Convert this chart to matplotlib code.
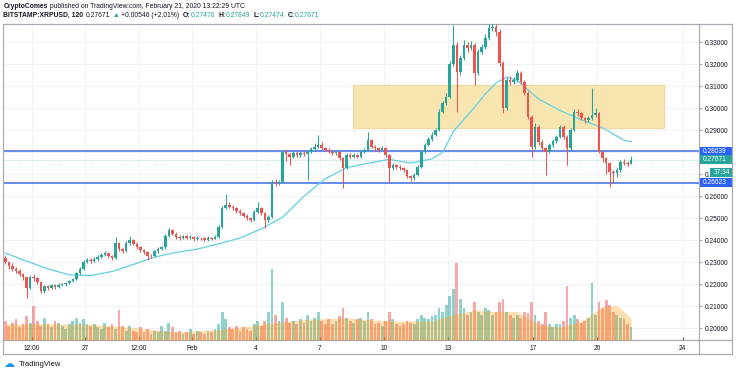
import numpy as np
import pandas as pd
import matplotlib
matplotlib.use('Agg')
import matplotlib.pyplot as plt
import matplotlib.dates as mdates
import matplotlib.transforms as mtransforms
from matplotlib.patches import Rectangle
from matplotlib.lines import Line2D

plt.rcParams['font.family'] = ['Liberation Sans', 'DejaVu Sans']

# BITSTAMP:XRPUSD, 4h candles (first one opens 23 Jan 06:00)
first_open = 0.2320
closes = [
    0.2300, 0.2285, 0.2270, 0.2262, 0.2245, 0.2232, 0.2185, 0.2235, 0.2228, 0.2210, 0.2168, 0.2190,
    0.2184, 0.2195, 0.2188, 0.2196, 0.2200, 0.2206, 0.2215, 0.2222, 0.2250, 0.2270, 0.2303, 0.2312,
    0.2305, 0.2315, 0.2325, 0.2335, 0.2342, 0.2328, 0.2318, 0.2388, 0.2360, 0.2350, 0.2388, 0.2402,
    0.2385, 0.2368, 0.2356, 0.2345, 0.2330, 0.2328, 0.2350, 0.2362, 0.2368, 0.2420, 0.2447, 0.2430,
    0.2416, 0.2410, 0.2418, 0.2412, 0.2416, 0.2405, 0.2412, 0.2409, 0.2402, 0.2412, 0.2408, 0.2416,
    0.2462, 0.2547, 0.2560, 0.2553, 0.2545, 0.2535, 0.2524, 0.2512, 0.2500, 0.2492, 0.2530, 0.2547,
    0.2524, 0.2492, 0.2507, 0.2666, 0.2659, 0.2666, 0.2803, 0.2790, 0.2780, 0.2797, 0.2788, 0.2797,
    0.2790, 0.2803, 0.2815, 0.2825, 0.2833, 0.2819, 0.2812, 0.2803, 0.2795, 0.2803, 0.2774, 0.2729,
    0.2788, 0.2780, 0.2788, 0.2780, 0.2800, 0.2811, 0.2856, 0.2825, 0.2818, 0.2811, 0.2819, 0.2788,
    0.2729, 0.2740, 0.2735, 0.2729, 0.2720, 0.2690, 0.2683, 0.2697, 0.2735, 0.2803, 0.2833, 0.2860,
    0.2879, 0.2901, 0.2985, 0.3024, 0.3053, 0.3200, 0.3288, 0.3166, 0.3230, 0.3288, 0.3274, 0.3288,
    0.3160, 0.3257, 0.3280, 0.3320, 0.3365, 0.3371, 0.3348, 0.3206, 0.3000, 0.3129, 0.3120, 0.3130,
    0.3160, 0.3121, 0.3070, 0.2962, 0.2825, 0.2916, 0.2848, 0.2819, 0.2803, 0.2833, 0.2850, 0.2871,
    0.2916, 0.2871, 0.2819, 0.2901, 0.2985, 0.2978, 0.2954, 0.2947, 0.2955, 0.2969, 0.2978, 0.2803,
    0.2774, 0.2751, 0.2712, 0.2705, 0.2720, 0.2757, 0.2751, 0.2748, 0.27671]
highs = [
    0.2332, 0.2308, 0.2295, 0.2280, 0.2268, 0.2252, 0.2238, 0.2242, 0.2246, 0.2232, 0.2214, 0.2198,
    0.2196, 0.2202, 0.2200, 0.2205, 0.2208, 0.2212, 0.2220, 0.2230, 0.2258, 0.2280, 0.2312, 0.2320,
    0.2318, 0.2324, 0.2332, 0.2344, 0.2350, 0.2348, 0.2332, 0.2415, 0.2394, 0.2366, 0.2396, 0.2418,
    0.2408, 0.2390, 0.2372, 0.2360, 0.2350, 0.2336, 0.2356, 0.2368, 0.2376, 0.2428, 0.2456, 0.2452,
    0.2436, 0.2422, 0.2426, 0.2424, 0.2422, 0.2420, 0.2418, 0.2416, 0.2414, 0.2420, 0.2416, 0.2424,
    0.2470, 0.2555, 0.2610, 0.2575, 0.2560, 0.2552, 0.2540, 0.2530, 0.2518, 0.2506, 0.2538, 0.2575,
    0.2552, 0.2530, 0.2515, 0.2675, 0.2680, 0.2674, 0.2812, 0.2815, 0.2798, 0.2806, 0.2805, 0.2808,
    0.2805, 0.2812, 0.2826, 0.2840, 0.2879, 0.2845, 0.2826, 0.2818, 0.2810, 0.2812, 0.2808, 0.2780,
    0.2796, 0.2795, 0.2796, 0.2794, 0.2808, 0.2820, 0.2894, 0.2862, 0.2832, 0.2826, 0.2828, 0.2824,
    0.2792, 0.2750, 0.2748, 0.2742, 0.2735, 0.2726, 0.2698, 0.2704, 0.2742, 0.2810, 0.2842, 0.2870,
    0.2890, 0.2912, 0.2995, 0.3035, 0.3070, 0.3215, 0.3379, 0.3300, 0.3240, 0.3310, 0.3300, 0.3305,
    0.3295, 0.3268, 0.3292, 0.3338, 0.3385, 0.3390, 0.3385, 0.3360, 0.3215, 0.3140, 0.3145, 0.3142,
    0.3172, 0.3168, 0.3128, 0.3078, 0.2970, 0.2935, 0.2922, 0.2855, 0.2826, 0.2842, 0.2860, 0.2880,
    0.2925, 0.2922, 0.2878, 0.2910, 0.2998, 0.2995, 0.2984, 0.2962, 0.2965, 0.3092, 0.3000, 0.2985,
    0.2810, 0.2780, 0.2758, 0.2720, 0.2728, 0.2765, 0.2768, 0.2760, 0.27849]
lows = [
    0.2290, 0.2270, 0.2262, 0.2250, 0.2236, 0.2220, 0.2138, 0.2180, 0.2215, 0.2200, 0.2160, 0.2162,
    0.2176, 0.2178, 0.2180, 0.2184, 0.2190, 0.2194, 0.2200, 0.2210, 0.2218, 0.2244, 0.2265, 0.2295,
    0.2296, 0.2300, 0.2308, 0.2318, 0.2328, 0.2320, 0.2310, 0.2314, 0.2352, 0.2340, 0.2345, 0.2380,
    0.2378, 0.2360, 0.2348, 0.2336, 0.2310, 0.2318, 0.2322, 0.2344, 0.2355, 0.2362, 0.2415, 0.2422,
    0.2408, 0.2400, 0.2404, 0.2405, 0.2406, 0.2398, 0.2400, 0.2402, 0.2396, 0.2398, 0.2400, 0.2404,
    0.2412, 0.2458, 0.2540, 0.2545, 0.2536, 0.2526, 0.2515, 0.2505, 0.2492, 0.2484, 0.2488, 0.2525,
    0.2515, 0.2456, 0.2485, 0.2500, 0.2648, 0.2650, 0.2660, 0.2760, 0.2740, 0.2772, 0.2778, 0.2780,
    0.2782, 0.2674, 0.2795, 0.2808, 0.2818, 0.2810, 0.2804, 0.2795, 0.2786, 0.2788, 0.2765, 0.2638,
    0.2725, 0.2772, 0.2774, 0.2772, 0.2775, 0.2795, 0.2806, 0.2818, 0.2808, 0.2802, 0.2804, 0.2780,
    0.2666, 0.2720, 0.2726, 0.2720, 0.2712, 0.2682, 0.2668, 0.2676, 0.2692, 0.2730, 0.2798, 0.2828,
    0.2850, 0.2872, 0.2895, 0.2978, 0.3015, 0.3045, 0.3190, 0.2985, 0.3150, 0.3220, 0.3255, 0.3265,
    0.3106, 0.3150, 0.3245, 0.3270, 0.3310, 0.3350, 0.3330, 0.3190, 0.2979, 0.2990, 0.3105, 0.3110,
    0.3120, 0.3110, 0.3060, 0.2950, 0.2780, 0.2815, 0.2835, 0.2805, 0.2697, 0.2795, 0.2825, 0.2842,
    0.2865, 0.2860, 0.2740, 0.2812, 0.2895, 0.2965, 0.2945, 0.2935, 0.2938, 0.2948, 0.2960, 0.2795,
    0.2755, 0.2700, 0.2644, 0.2660, 0.2688, 0.2712, 0.2740, 0.2738, 0.27474]
volumes = [
    6.0, 4.5, 5.5, 6.5, 4.0, 5.0, 7.5, 5.5, 10.7, 6.0, 4.5, 7.0,
    5.0, 4.0, 6.0, 5.5, 4.5, 3.5, 5.0, 6.0, 7.0, 5.5, 6.5, 5.0,
    4.5, 5.0, 4.0, 3.5, 5.5, 4.0, 5.0, 3.5, 9.4, 4.5, 3.0, 4.5,
    3.0, 2.5, 4.0, 2.5, 3.5, 2.0, 3.0, 2.5, 4.5, 3.0, 5.5, 4.0,
    2.5, 3.0, 2.0, 2.5, 3.5, 2.0, 3.0, 2.5, 2.0, 3.0, 2.5, 3.5,
    5.0, 8.8, 6.5, 4.0, 3.5, 4.5, 3.0, 4.0, 3.5, 3.0, 5.0, 6.0,
    4.5, 6.0, 9.0, 22.6, 8.0, 6.0, 12.0, 7.0, 5.5, 6.0, 5.0, 6.5,
    5.5, 8.0, 6.0, 7.0, 9.0, 6.0, 5.0, 6.5, 5.0, 6.0, 7.5, 10.0,
    7.0, 6.0, 5.5, 6.5, 7.0, 6.0, 9.0, 6.5, 5.0, 5.5, 4.5, 6.0,
    9.0, 6.5, 5.0, 4.5, 5.0, 6.0, 5.5, 5.0, 6.5, 8.0, 7.0, 6.5,
    7.5, 8.0, 10.0, 9.0, 11.0, 14.0, 16.0, 24.5, 13.0, 10.0, 8.0, 9.0,
    12.0, 9.0, 8.0, 10.0, 9.5, 8.0, 9.0, 12.0, 13.0, 9.0, 8.0, 7.0,
    8.0, 7.0, 9.0, 8.5, 12.0, 8.0, 6.0, 5.0, 9.0, 5.0, 4.0, 5.0,
    5.0, 6.0, 17.0, 7.0, 8.0, 6.5, 5.5, 6.0, 7.0, 18.0, 8.0, 12.0,
    10.0, 12.6, 11.0, 9.0, 8.0, 7.0, 6.5, 5.0, 4.0]

# moving average (cyan) read at some candle indices
ma_idx = [0, 6, 12, 18, 24, 30, 36, 42, 48, 54, 60, 66, 72, 78, 84, 90, 96, 102, 108, 114,
          120, 123, 126, 129, 132, 135, 138, 141, 144, 150, 156, 162, 168, 174, 176]
ma_vals = [0.2342, 0.2305, 0.2270, 0.2243, 0.2240, 0.2258, 0.2290, 0.2324, 0.2345, 0.2360,
           0.2384, 0.2410, 0.2452, 0.2505, 0.2600, 0.2680, 0.2730, 0.2750, 0.2768, 0.2751,
           0.2770, 0.2800, 0.2894, 0.2950, 0.3005, 0.3065, 0.3115, 0.3142, 0.3126, 0.3042,
           0.2990, 0.2948, 0.2911, 0.2855, 0.2848]

# volume moving average (orange area)
vol_ma_idx = [0, 12, 24, 36, 48, 60, 72, 84, 96, 108, 120, 126, 132, 138, 144, 150, 156, 162, 168, 172, 176]
vol_ma_vals = [5.0, 5.2, 5.0, 4.0, 2.5, 3.3, 5.0, 6.5, 7.0, 6.0, 6.0, 8.0, 9.5, 9.0, 9.0,
               5.0, 4.0, 6.0, 10.5, 11.0, 7.0]

zone_start, zone_end = '2020-02-08 13:30', '2020-02-23 03:30'
zone_low, zone_high = 0.2910, 0.3106
resistance = 0.28039
support = 0.26623
last_price = 0.27671

tick_dates = ['2020-01-24 12:00', '2020-01-27 00:00', '2020-01-29 12:00', '2020-02-01 00:00',
              '2020-02-04 00:00', '2020-02-07 00:00', '2020-02-10 00:00', '2020-02-13 00:00',
              '2020-02-17 00:00', '2020-02-20 00:00', '2020-02-24 00:00']
tick_labels = ['12:00', '27', '12:00', 'Feb', '4', '7', '10', '13', '17', '20', '24']
price_ticks = [0.20, 0.21, 0.22, 0.23, 0.24, 0.25, 0.26, 0.27, 0.28, 0.29, 0.30, 0.31, 0.32, 0.33]
# 0.28000 sits behind the 0.28039 box and only "0.2" of 0.27000 peeks out
price_tick_labels = ['0.20000', '0.21000', '0.22000', '0.23000', '0.24000', '0.25000', '0.26000',
                     '0.2', '', '0.29000', '0.30000', '0.31000', '0.32000', '0.33000']

UP, DOWN = '#26a69a', '#ef5350'
TXT = '#131722'
FRAME = '#a9acb5'
W, H = 736, 375
HDR = 4.9


def fx(px):
    return px / W


def fy(py):
    return 1 - py / H


times = pd.date_range('2020-01-23 06:00', periods=len(closes), freq='4h')
x = mdates.date2num(times)
closes = np.array(closes)
opens = np.concatenate([[first_open], closes[:-1]])
up = closes >= opens
col = np.where(up, UP, DOWN)

fig = plt.figure(figsize=(W / 100, H / 100), dpi=100, facecolor='white')
ax = fig.add_axes([fx(3.3), fy(340), fx(699.3) - fx(3.3), fy(24.3) - fy(340)])
ax.set_xlim(mdates.date2num(pd.Timestamp('2020-01-23 03:45')),
            mdates.date2num(pd.Timestamp('2020-02-24 18:45')))
ax.set_ylim(0.19468, 0.33818)

# grid
ax.set_axisbelow(True)
ax.grid(True, color='#f0f3fa', lw=0.8)

# support / resistance zone
z0 = mdates.date2num(pd.Timestamp(zone_start))
z1 = mdates.date2num(pd.Timestamp(zone_end))
ax.add_patch(Rectangle((z0, zone_low), z1 - z0, zone_high - zone_low,
                       facecolor='#f9e5b0', edgecolor='#f0d89c', lw=0.8, zorder=1))

ax.axhline(last_price, color='#b2dfdb', lw=0.7, ls=(0, (1, 1)), zorder=1.5)
ax.axhline(resistance, color='#3d6be6', lw=1.1, zorder=1.6)
ax.axhline(support, color='#3d6be6', lw=1.1, zorder=1.6)

# candles
body_lo = np.minimum(opens, closes)
body_h = np.maximum(np.abs(closes - opens), 0.00015)
ax.vlines(x, lows, highs, colors=col, lw=0.75, zorder=3)
ax.bar(x, body_h, bottom=body_lo, width=0.12, color=col, linewidth=0, zorder=3)

# moving average
ax.plot(x[ma_idx], ma_vals, color='#63d0e4', lw=0.9, zorder=2.5)

# volume on its own scale
vax = ax.twinx()
vax.set_ylim(0, 100)
vax.bar(x, volumes, width=0.13, color=col, alpha=0.5, linewidth=0)
vax.fill_between(x[vol_ma_idx], vol_ma_vals, color='#ff9800', alpha=0.3, lw=0)
vax.set_yticks([])
for s in vax.spines.values():
    s.set_visible(False)

# axes styling
for s in ax.spines.values():
    s.set_color(FRAME)
    s.set_linewidth(0.9)
ax.yaxis.tick_right()
ax.set_yticks(price_ticks)
ax.set_yticklabels(price_tick_labels)
ax.tick_params(axis='y', direction='out', length=2.2, pad=1.5, labelsize=4.8,
               color=FRAME, labelcolor=TXT)
ax.set_xticks(mdates.date2num(pd.to_datetime(tick_dates, format='%Y-%m-%d %H:%M')))
ax.set_xticklabels(tick_labels)
ax.tick_params(axis='x', direction='in', length=2, pad=3.5, labelsize=4.8,
               color='#50535e', labelcolor=TXT)

# outer frame of the widget
for xs, ys in [([3.3, 732.3], [354.3, 354.3]), ([732.3, 732.3], [24.3, 354.3]),
               ([699.3, 732.3], [24.3, 24.3]), ([3.3, 3.3], [340, 354.3]),
               ([699.3, 699.3], [340, 354.3]), ([699.3, 732.3], [340, 340])]:
    fig.add_artist(Line2D([fx(v) for v in xs], [fy(v) for v in ys],
                          color=FRAME, lw=0.9, transform=fig.transFigure))

# price labels on the right scale
fig.canvas.draw()
px_per_unit = ax.bbox.height / (ax.get_ylim()[1] - ax.get_ylim()[0])
blend = mtransforms.blended_transform_factory(fig.transFigure, ax.transData)


def price_box(price, text, color, x0=699.6, x1=732, shift_px=0.0, h_px=8.5):
    y = price - shift_px / px_per_unit
    h = h_px / px_per_unit
    ax.add_patch(Rectangle((fx(x0), y - h / 2), fx(x1) - fx(x0), h, transform=blend,
                           facecolor=color, edgecolor='none', clip_on=False, zorder=10))
    ax.text(fx(x0 + 3.5), y, text, transform=blend, color='white', fontsize=4.8,
            va='center', ha='left', clip_on=False, zorder=11)


price_box(resistance, f'{resistance:.5f}', '#2962ff')
price_box(last_price, f'{last_price:.5f}', UP)
price_box(last_price, '37:34', UP, x0=710, shift_px=13, h_px=9.5)
price_box(support, f'{support:.5f}', '#2962ff')

# header lines
hdr = fig.text(fx(3.3), fy(6), 'CryptoComes', fontsize=HDR, fontweight='bold', color=TXT, va='center')
ax.annotate(' published on TradingView.com, February 21, 2020 13:22:29 UTC', xy=(1, 0),
            xycoords=hdr, va='bottom', ha='left', fontsize=HDR, color=TXT, annotation_clip=False)

parts = [('BITSTAMP:XRPUSD, 120', TXT, 'bold', 0), ('0.27671', TXT, 'normal', 2),
         ('\u25b2', UP, 'normal', 1.5), ('+0.00546 (+2.01%)', TXT, 'normal', 1.5),
         ('O:', TXT, 'bold', 2.5), ('0.27476', UP, 'normal', 0),
         ('H:', TXT, 'bold', 2.5), ('0.27849', UP, 'normal', 0),
         ('L:', TXT, 'bold', 2.5), ('0.27474', UP, 'normal', 0),
         ('C:', TXT, 'bold', 2.5), ('0.27671', UP, 'normal', 0)]
prev = fig.text(fx(3.3), fy(15.7), parts[0][0], fontsize=HDR, fontweight='bold', color=TXT, va='center')
for s, c, w, gap in parts[1:]:
    prev = ax.annotate(s, xy=(1, 0), xycoords=prev, xytext=(gap, 0), textcoords='offset points',
                       va='bottom', ha='left', fontsize=HDR, fontweight=w, color=c,
                       annotation_clip=False)

# footer logo
fig.text(fx(3), fy(364), '\u2601', fontsize=8, color='#2196f3', va='center',
         family='DejaVu Sans')
fig.text(fx(19), fy(364), 'TradingView', fontsize=5.5, color=TXT, va='center')

fig.savefig('out.png', dpi=100, facecolor='white')
